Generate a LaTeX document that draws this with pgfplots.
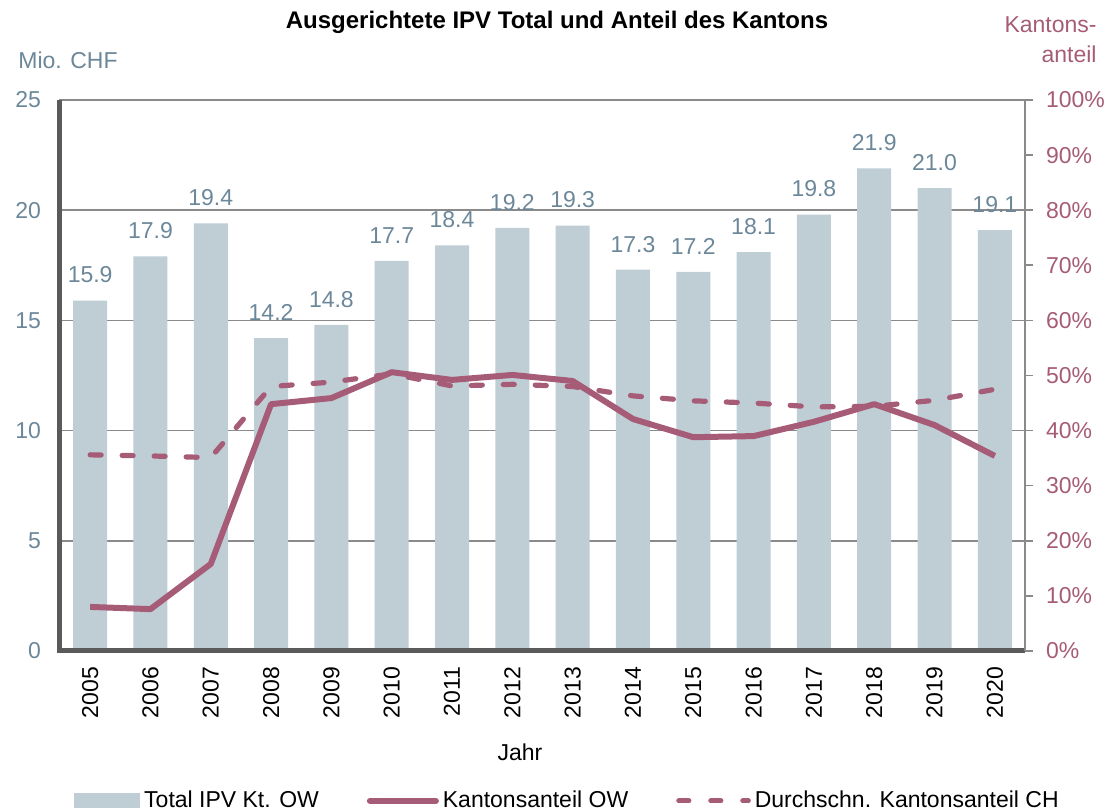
\documentclass[border=0pt]{standalone}
\usepackage{fontspec}
\setmainfont{Liberation Sans}
\usepackage{pgfplots}
\pgfplotsset{compat=1.18}
\definecolor{barcol}{HTML}{BFCDD5}
\definecolor{linecol}{HTML}{A65C76}
\definecolor{labblue}{HTML}{6B8799}
\definecolor{gridg}{HTML}{8A8A8A}
\definecolor{axdark}{HTML}{5A5A5A}
\begin{document}
\begin{tikzpicture}[font=\fontsize{11.5}{13.5}\selectfont]
\begin{axis}[
  at={(0,0)}, anchor=south west,
  scale only axis, width=482.5pt, height=275.5pt,
  xmin=-0.5, xmax=15.5, ymin=0, ymax=25,
  ytick={0,5,10,15,20,25},
  xtick={0,...,15},
  xticklabels={2005,2006,2007,2008,2009,2010,2011,2012,2013,2014,2015,2016,2017,2018,2019,2020},
  xticklabel style={rotate=90, anchor=east, black, xshift=-4.5pt},
  yticklabel style={labblue, xshift=-6pt},
  /pgf/number format/assume math mode=true,
  major tick length=0pt,
  ymajorgrids, grid style={gridg, line width=0.8pt},
  axis line style={gridg, line width=0.8pt},
  ybar, bar width=17pt,
  nodes near coords={\pgfmathprintnumber[fixed,fixed zerofill,precision=1,assume math mode=true]{\pgfplotspointmeta}},
  every node near coord/.append style={labblue, anchor=south, inner sep=0pt, yshift=8.5pt},
  clip=false,
]
\addplot[fill=barcol, draw=none] coordinates {
(0,15.9) (1,17.9) (2,19.4) (3,14.2) (4,14.8) (5,17.7) (6,18.4) (7,19.2)
(8,19.3) (9,17.3) (10,17.2) (11,18.1) (12,19.8) (13,21.9) (14,21.0) (15,19.1)};
\draw[axdark, line width=2.5pt] (rel axis cs:0,1) -- (rel axis cs:0,0) -- (rel axis cs:1,0);
\end{axis}
\begin{axis}[
  at={(0,0)}, anchor=south west,
  scale only axis, width=482.5pt, height=275.5pt,
  xmin=-0.5, xmax=15.5, ymin=0, ymax=100,
  axis x line=none,
  axis y line*=right,
  axis line style={gridg, line width=0.8pt},
  ytick={0,10,...,100},
  yticklabel={\pgfmathprintnumber{\tick}\%},
  /pgf/number format/assume math mode=true,
  yticklabel style={linecol, xshift=3pt},
  major tick length=4pt, tick align=outside,
  tick style={gridg, line width=0.8pt},
  legend columns=3,
  legend style={at={(0.527,-0.272)}, anchor=center, draw=none, fill=none,
    font=\fontsize{11.5}{13.5}\selectfont,
    /tikz/every even column/.append style={column sep=22pt},
    nodes={inner sep=2pt}},
]
\addlegendimage{legend image code/.code={\fill[barcol] (0pt,-3.5pt) rectangle (32.5pt,3.5pt);}}
\addlegendentry{Total IPV Kt. OW}
\addplot[linecol, line width=3pt, line join=round,
  legend image code/.code={\draw[linecol, line width=3pt, line cap=round] (0pt,0pt) -- (33pt,0pt);}] coordinates {
(0,8.0) (1,7.6) (2,15.8) (3,44.8) (4,45.9) (5,50.6) (6,49.2) (7,50.1)
(8,49.0) (9,42.1) (10,38.8) (11,39.0) (12,41.6) (13,44.8) (14,41.0) (15,35.4)};
\addlegendentry{Kantonsanteil OW}
\addplot[linecol, line width=2.6pt, line cap=round, dash pattern=on 5.5pt off 10.5pt,
  legend image code/.code={\draw[linecol, line width=2.6pt, line cap=round, dash pattern=on 5pt off 11pt] (1.3pt,0pt) -- (36pt,0pt);}] coordinates {
(0,35.6) (1,35.4) (2,35.1) (3,48.0) (4,48.8) (5,50.3) (6,48.1) (7,48.4)
(8,48.0) (9,46.3) (10,45.4) (11,45.0) (12,44.3) (13,44.4) (14,45.5) (15,47.5)};
\addlegendentry{Durchschn. Kantonsanteil CH}
\end{axis}
\node[font=\bfseries\fontsize{12}{14}\selectfont] at (248.5pt,314.5pt) {Ausgerichtete IPV Total und Anteil des Kantons};
\node[labblue, anchor=west, inner sep=0pt] at (-21pt,295.5pt) {Mio. CHF};
\node[linecol, anchor=east, align=right, inner sep=0pt, font=\fontsize{11.5}{15}\selectfont] at (518.5pt,305.5pt) {Kantons-\\anteil};
\node at (230pt,-50.5pt) {Jahr};
\pgfresetboundingbox
\path (-30pt,-80.5pt) rectangle (527.5pt,325.5pt);
\end{tikzpicture}
\end{document}
